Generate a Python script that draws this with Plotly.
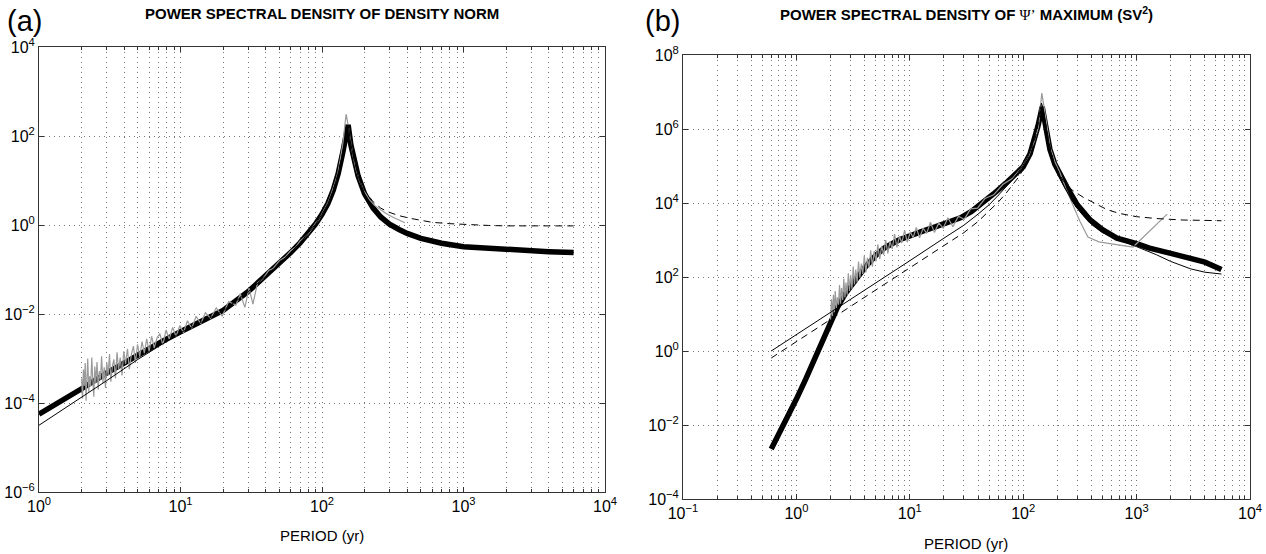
import numpy as np
import plotly.graph_objects as go

# ---------------- Panel (a): density norm ----------------
a_thick_period = [1, 1.5, 2, 3, 5, 7, 10, 15, 20, 30, 40, 50, 60, 70, 80, 90, 100, 110, 120, 130,
                  140, 150, 153, 160, 170, 180, 200, 230, 260, 300, 350, 400, 500, 700, 1000,
                  2000, 4000, 6000]
a_thick_log10 = [-4.25, -3.93, -3.68, -3.33, -2.92, -2.66, -2.4, -2.13, -1.92, -1.5, -1.15, -0.88,
                 -0.62, -0.4, -0.18, 0.02, 0.24, 0.48, 0.78, 1.15, 1.62, 2.15, 2.25, 1.8, 1.4, 1.1,
                 0.7, 0.38, 0.18, 0.02, -0.1, -0.19, -0.3, -0.41, -0.49, -0.56, -0.6, -0.62]

a_thin_period = [1, 2, 3, 5, 8, 10, 15, 20, 30, 40, 50, 60, 70, 80, 90, 100, 110, 120, 130, 140,
                 150, 153, 160, 170, 180, 200, 230, 260, 300, 350, 400, 500, 700, 1000, 2000,
                 4000, 6000]
a_thin_log10 = [-4.5, -3.88, -3.5, -3.02, -2.6, -2.42, -2.14, -1.93, -1.5, -1.15, -0.88, -0.62, -0.4,
                -0.18, 0.02, 0.24, 0.48, 0.78, 1.15, 1.62, 2.15, 2.25, 1.8, 1.4, 1.1, 0.7, 0.38,
                0.18, 0.02, -0.1, -0.19, -0.3, -0.41, -0.49, -0.56, -0.6, -0.62]

a_dash_period = [120, 130, 140, 150, 153, 160, 170, 180, 200, 230, 260, 290, 350, 420, 500, 600,
                 800, 1000, 1500, 2000, 3000, 4000, 6000]
a_dash_log10 = [0.78, 1.15, 1.62, 2.15, 2.25, 1.82, 1.42, 1.14, 0.78, 0.52, 0.38, 0.3, 0.21, 0.15,
                0.1, 0.06, 0.03, 0.01, -0.01, -0.02, -0.02, -0.02, -0.02]

# raw periodogram (period, log10 power)
a_grey = [(2.00, -3.45), (2.03, -3.90), (2.06, -3.25), (2.09, -3.62), (2.12, -3.10), (2.15, -3.95),
          (2.18, -3.48), (2.21, -3.00), (2.25, -3.75), (2.28, -3.40), (2.32, -3.62), (2.36, -2.98),
          (2.40, -3.50), (2.44, -3.86), (2.48, -3.18), (2.52, -3.55), (2.57, -3.08), (2.62, -3.70),
          (2.67, -3.28), (2.72, -3.47), (2.77, -2.95), (2.83, -3.55), (2.89, -3.20), (2.95, -3.66),
          (3.01, -3.08), (3.08, -3.38), (3.15, -2.90), (3.22, -3.52), (3.30, -3.18), (3.38, -3.02),
          (3.47, -3.45), (3.56, -2.86), (3.65, -3.25), (3.75, -2.98), (3.86, -3.38), (3.97, -2.84),
          (4.09, -3.12), (4.22, -2.78), (4.35, -3.24), (4.50, -2.90), (4.65, -2.72), (4.80, -3.10),
          (4.97, -2.68), (5.15, -2.96), (5.35, -2.62), (5.55, -2.88), (5.77, -2.56), (6.00, -2.84),
          (6.25, -2.50), (6.52, -2.76), (6.82, -2.54), (7.14, -2.44), (7.50, -2.70), (7.90, -2.36),
          (8.33, -2.56), (8.80, -2.30), (9.30, -2.50), (9.90, -2.26), (10.5, -2.42), (11.2, -2.15),
          (12.0, -2.32), (12.9, -2.05), (13.9, -2.22), (15.0, -1.97), (16.3, -2.10), (17.9, -1.86),
          (19.7, -2.05), (21.9, -1.72), (24.6, -1.80), (26.5, -1.55), (28.5, -1.85), (30.5, -1.42),
          (32.5, -1.78), (35, -1.30), (38, -1.22), (42, -1.02), (45, -0.98), (50, -0.80),
          (55, -0.72), (60, -0.58), (65, -0.50), (70, -0.36), (75, -0.28), (80, -0.20), (85, -0.08),
          (90, 0.04), (95, 0.12), (100, 0.26), (105, 0.38), (110, 0.50), (115, 0.66), (120, 0.82),
          (125, 1.00), (130, 1.20), (135, 1.48), (140, 1.80), (144, 2.15), (148, 2.49), (152, 2.30),
          (158, 1.95), (165, 1.58), (175, 1.22), (185, 0.98), (200, 0.75), (215, 0.58), (235, 0.44),
          (255, 0.36), (280, 0.27), (310, 0.19), (345, 0.12), (385, 0.05)]

# ---------------- Panel (b): Psi' maximum ----------------
b_thick_period = [0.6, 0.7, 0.8, 0.9, 1.0, 1.2, 1.5, 1.8, 2.0, 2.3, 2.7, 3.2, 4, 5, 6, 8, 10, 13,
                  17, 22, 28, 35, 44, 55, 70, 85, 100, 115, 125, 135, 142, 147, 150, 155, 160, 172,
                  190, 215, 243, 300, 390, 500, 670, 1000, 1300, 2000, 2960, 4000, 5600]
b_thick_log10 = [-2.65, -2.26, -1.9, -1.59, -1.3, -0.78, -0.12, 0.45, 0.8, 1.18, 1.55, 1.88, 2.25,
                 2.58, 2.79, 3.0, 3.12, 3.24, 3.36, 3.47, 3.6, 3.77, 4.0, 4.25, 4.53, 4.75, 4.98,
                 5.33, 5.68, 6.08, 6.38, 6.6, 6.45, 6.15, 5.9, 5.45, 5.05, 4.7, 4.43, 3.95, 3.54,
                 3.28, 3.05, 2.9, 2.78, 2.64, 2.51, 2.4, 2.2]

b_thin_period = [0.6, 1, 2, 5, 10, 20, 30, 40, 50, 60, 70, 80, 90, 100, 110, 120, 130, 140, 145,
                 150, 160, 170, 185, 200, 230, 270, 330, 400, 500, 700, 1000, 1500, 2000, 3000,
                 4000, 5600]
b_thin_log10 = [0.0, 0.44, 1.05, 1.84, 2.44, 3.05, 3.4, 3.7, 3.95, 4.2, 4.42, 4.62, 4.82, 5.02,
                5.25, 5.55, 5.95, 6.45, 6.7, 6.55, 6.0, 5.55, 5.1, 4.8, 4.45, 4.05, 3.7, 3.42, 3.2,
                3.0, 2.82, 2.6, 2.42, 2.22, 2.13, 2.08]

b_dash_period = [0.6, 1, 2, 5, 10, 20, 30, 40, 50, 60, 70, 80, 90, 100, 110, 120, 130, 140, 145,
                 150, 160, 170, 185, 200, 225, 270, 340, 450, 550, 700, 1000, 1500, 2570, 4000, 5600]
b_dash_log10 = [-0.19, 0.25, 0.86, 1.65, 2.25, 2.85, 3.2, 3.5, 3.78, 4.02, 4.25, 4.47, 4.68, 4.9,
                5.15, 5.45, 5.85, 6.35, 6.6, 6.5, 6.0, 5.6, 5.15, 4.9, 4.6, 4.35, 4.15, 3.95, 3.82,
                3.72, 3.63, 3.58, 3.54, 3.53, 3.52]

b_grey = [(2.00, 0.85), (2.04, 1.40), (2.08, 0.95), (2.12, 1.52), (2.16, 1.05), (2.20, 1.62),
          (2.25, 1.15), (2.30, 1.45), (2.35, 1.25), (2.40, 1.78), (2.45, 1.28), (2.50, 1.70),
          (2.56, 1.38), (2.62, 1.95), (2.68, 1.45), (2.74, 1.85), (2.80, 1.52), (2.87, 2.10),
          (2.94, 1.62), (3.01, 2.05), (3.09, 1.68), (3.17, 2.28), (3.25, 1.80), (3.34, 2.20),
          (3.43, 1.86), (3.53, 2.42), (3.63, 1.98), (3.74, 2.36), (3.85, 2.08), (3.97, 2.58),
          (4.10, 2.12), (4.23, 2.52), (4.37, 2.26), (4.52, 2.72), (4.68, 2.28), (4.85, 2.70),
          (5.03, 2.42), (5.22, 2.88), (5.43, 2.48), (5.65, 2.84), (5.88, 2.60), (6.13, 3.00),
          (6.40, 2.64), (6.69, 2.96), (7.00, 2.76), (7.34, 3.16), (7.70, 2.80), (8.10, 3.10),
          (8.50, 2.92), (9.00, 3.26), (9.50, 2.94), (10.1, 3.22), (10.7, 3.06), (11.4, 3.34),
          (12.2, 3.06), (13.1, 3.32), (14.1, 3.18), (15.2, 3.48), (16.5, 3.20), (18.0, 3.46),
          (19.7, 3.32), (21.7, 3.60), (24.0, 3.36), (26.8, 3.64), (30.2, 3.56), (34.4, 3.84),
          (39.6, 3.86), (46, 4.12), (55, 4.22), (66, 4.50), (80, 4.66), (95, 4.92), (112, 5.28),
          (127, 5.72), (136, 6.05), (146, 6.97), (158, 6.30), (173, 5.50), (190, 5.12), (211, 4.82),
          (237, 4.40), (271, 4.00), (317, 3.50), (372, 3.08), (465, 2.95), (620, 2.89), (930, 2.81),
          (1860, 3.70)]

# ---------------- tick labels ----------------
a_xtick_vals = [1, 10, 100, 1000, 10000]
a_xtick_text = ["10<sup>0</sup>", "10<sup>1</sup>", "10<sup>2</sup>", "10<sup>3</sup>", "10<sup>4</sup>"]
a_ytick_vals = [1e-6, 1e-4, 1e-2, 1, 1e2, 1e4]
a_ytick_text = ["10<sup>\u22126</sup>", "10<sup>\u22124</sup>", "10<sup>\u22122</sup>",
                "10<sup>0</sup>", "10<sup>2</sup>", "10<sup>4</sup>"]
b_xtick_vals = [0.1, 1, 10, 100, 1000, 10000]
b_xtick_text = ["10<sup>\u22121</sup>", "10<sup>0</sup>", "10<sup>1</sup>", "10<sup>2</sup>",
                "10<sup>3</sup>", "10<sup>4</sup>"]
b_ytick_vals = [1e-4, 1e-2, 1, 1e2, 1e4, 1e6, 1e8]
b_ytick_text = ["10<sup>\u22124</sup>", "10<sup>\u22122</sup>", "10<sup>0</sup>", "10<sup>2</sup>",
                "10<sup>4</sup>", "10<sup>6</sup>", "10<sup>8</sup>"]


def pw(v):
    return np.power(10.0, np.asarray(v, dtype=float))


def minor_vals(k0, k1):
    return [m * 10.0 ** k for k in range(k0, k1) for m in range(2, 10)]


GREY = "#9a9a9a"
GRID = "#7a7a7a"
FONT = "Liberation Sans, Arial, Helvetica, sans-serif"

fig = go.Figure()


def add_panel(fig, xa, ya, thick_p, thick_l, thin_p, thin_l, dash_p, dash_l, grey):
    gp, gl = zip(*grey)
    fig.add_trace(go.Scatter(x=thick_p, y=pw(thick_l), mode="lines", xaxis=xa, yaxis=ya,
                             line=dict(color="black", width=5.5), showlegend=False))
    fig.add_trace(go.Scatter(x=list(gp), y=pw(gl), mode="lines", xaxis=xa, yaxis=ya,
                             line=dict(color=GREY, width=1.2), showlegend=False))
    fig.add_trace(go.Scatter(x=thin_p, y=pw(thin_l), mode="lines", xaxis=xa, yaxis=ya,
                             line=dict(color="black", width=1), showlegend=False))
    fig.add_trace(go.Scatter(x=dash_p, y=pw(dash_l), mode="lines", xaxis=xa, yaxis=ya,
                             line=dict(color="black", width=1, dash="7px,5px"), showlegend=False))


add_panel(fig, "x", "y", a_thick_period, a_thick_log10, a_thin_period, a_thin_log10,
          a_dash_period, a_dash_log10, a_grey)
add_panel(fig, "x2", "y2", b_thick_period, b_thick_log10, b_thin_period, b_thin_log10,
          b_dash_period, b_dash_log10, b_grey)

W, H = 1266, 554
common_axis = dict(
    type="log", showline=True, linecolor="#333333", linewidth=1, mirror="allticks",
    ticks="inside", ticklen=5, tickcolor="#333333",
    showgrid=True, gridcolor=GRID, griddash="1px,4px", gridwidth=1,
    zeroline=False, tickfont=dict(family=FONT, size=16, color="black"),
    tickmode="array", automargin=False,
)


def minor_cfg(k0, k1):
    return dict(tickmode="array", tickvals=minor_vals(k0, k1), ticks="inside", ticklen=3,
                tickcolor="#333333", showgrid=True, gridcolor=GRID, griddash="1px,4px",
                gridwidth=1)


xa = dict(common_axis, range=[0, 4], tickvals=a_xtick_vals, ticktext=a_xtick_text,
          domain=[39 / W, 605 / W], anchor="y", minor=minor_cfg(0, 4))
ya = dict(common_axis, range=[-6, 4], tickvals=a_ytick_vals, ticktext=a_ytick_text,
          domain=[1 - 492 / H, 1 - 47 / H], anchor="x")
xb = dict(common_axis, range=[-1, 4], tickvals=b_xtick_vals, ticktext=b_xtick_text,
          domain=[683 / W, 1250 / W], anchor="y2", minor=minor_cfg(-1, 4))
yb = dict(common_axis, range=[-4, 8], tickvals=b_ytick_vals, ticktext=b_ytick_text,
          domain=[1 - 499 / H, 1 - 55 / H], anchor="x2")

title_a = "<b>POWER SPECTRAL DENSITY OF DENSITY NORM</b>"
title_b = ("<b>POWER SPECTRAL DENSITY OF </b>"
           "<span style=\"font-family:'Liberation Serif', serif\">\u03a8\u2019</span>"
           "<b> MAXIMUM (SV<sup>2</sup>)</b>")

ann = [
    dict(text="(a)", x=5 / W, y=1 - 21 / H, xanchor="left", yanchor="middle",
         font=dict(family=FONT, size=29, color="black")),
    dict(text="(b)", x=643 / W, y=1 - 21 / H, xanchor="left", yanchor="middle",
         font=dict(family=FONT, size=29, color="black")),
    dict(text=title_a, x=322 / W, y=1 - 13 / H, xanchor="center", yanchor="middle",
         font=dict(family=FONT, size=15, color="black")),
    dict(text=title_b, x=966 / W, y=1 - 13 / H, xanchor="center", yanchor="middle",
         font=dict(family=FONT, size=15, color="black")),
    dict(text="PERIOD (yr)", x=322 / W, y=1 - 535 / H, xanchor="center", yanchor="middle",
         font=dict(family=FONT, size=15, color="black")),
    dict(text="PERIOD (yr)", x=966 / W, y=1 - 543 / H, xanchor="center", yanchor="middle",
         font=dict(family=FONT, size=15, color="black")),
]
for a in ann:
    a.update(xref="paper", yref="paper", showarrow=False)

fig.update_layout(
    width=W, height=H, margin=dict(l=0, r=0, t=0, b=0, autoexpand=False),
    paper_bgcolor="white", plot_bgcolor="white",
    xaxis=xa, yaxis=ya, xaxis2=xb, yaxis2=yb,
    annotations=ann, showlegend=False,
    font=dict(family=FONT, color="black"),
)

fig.write_html("out.html")
